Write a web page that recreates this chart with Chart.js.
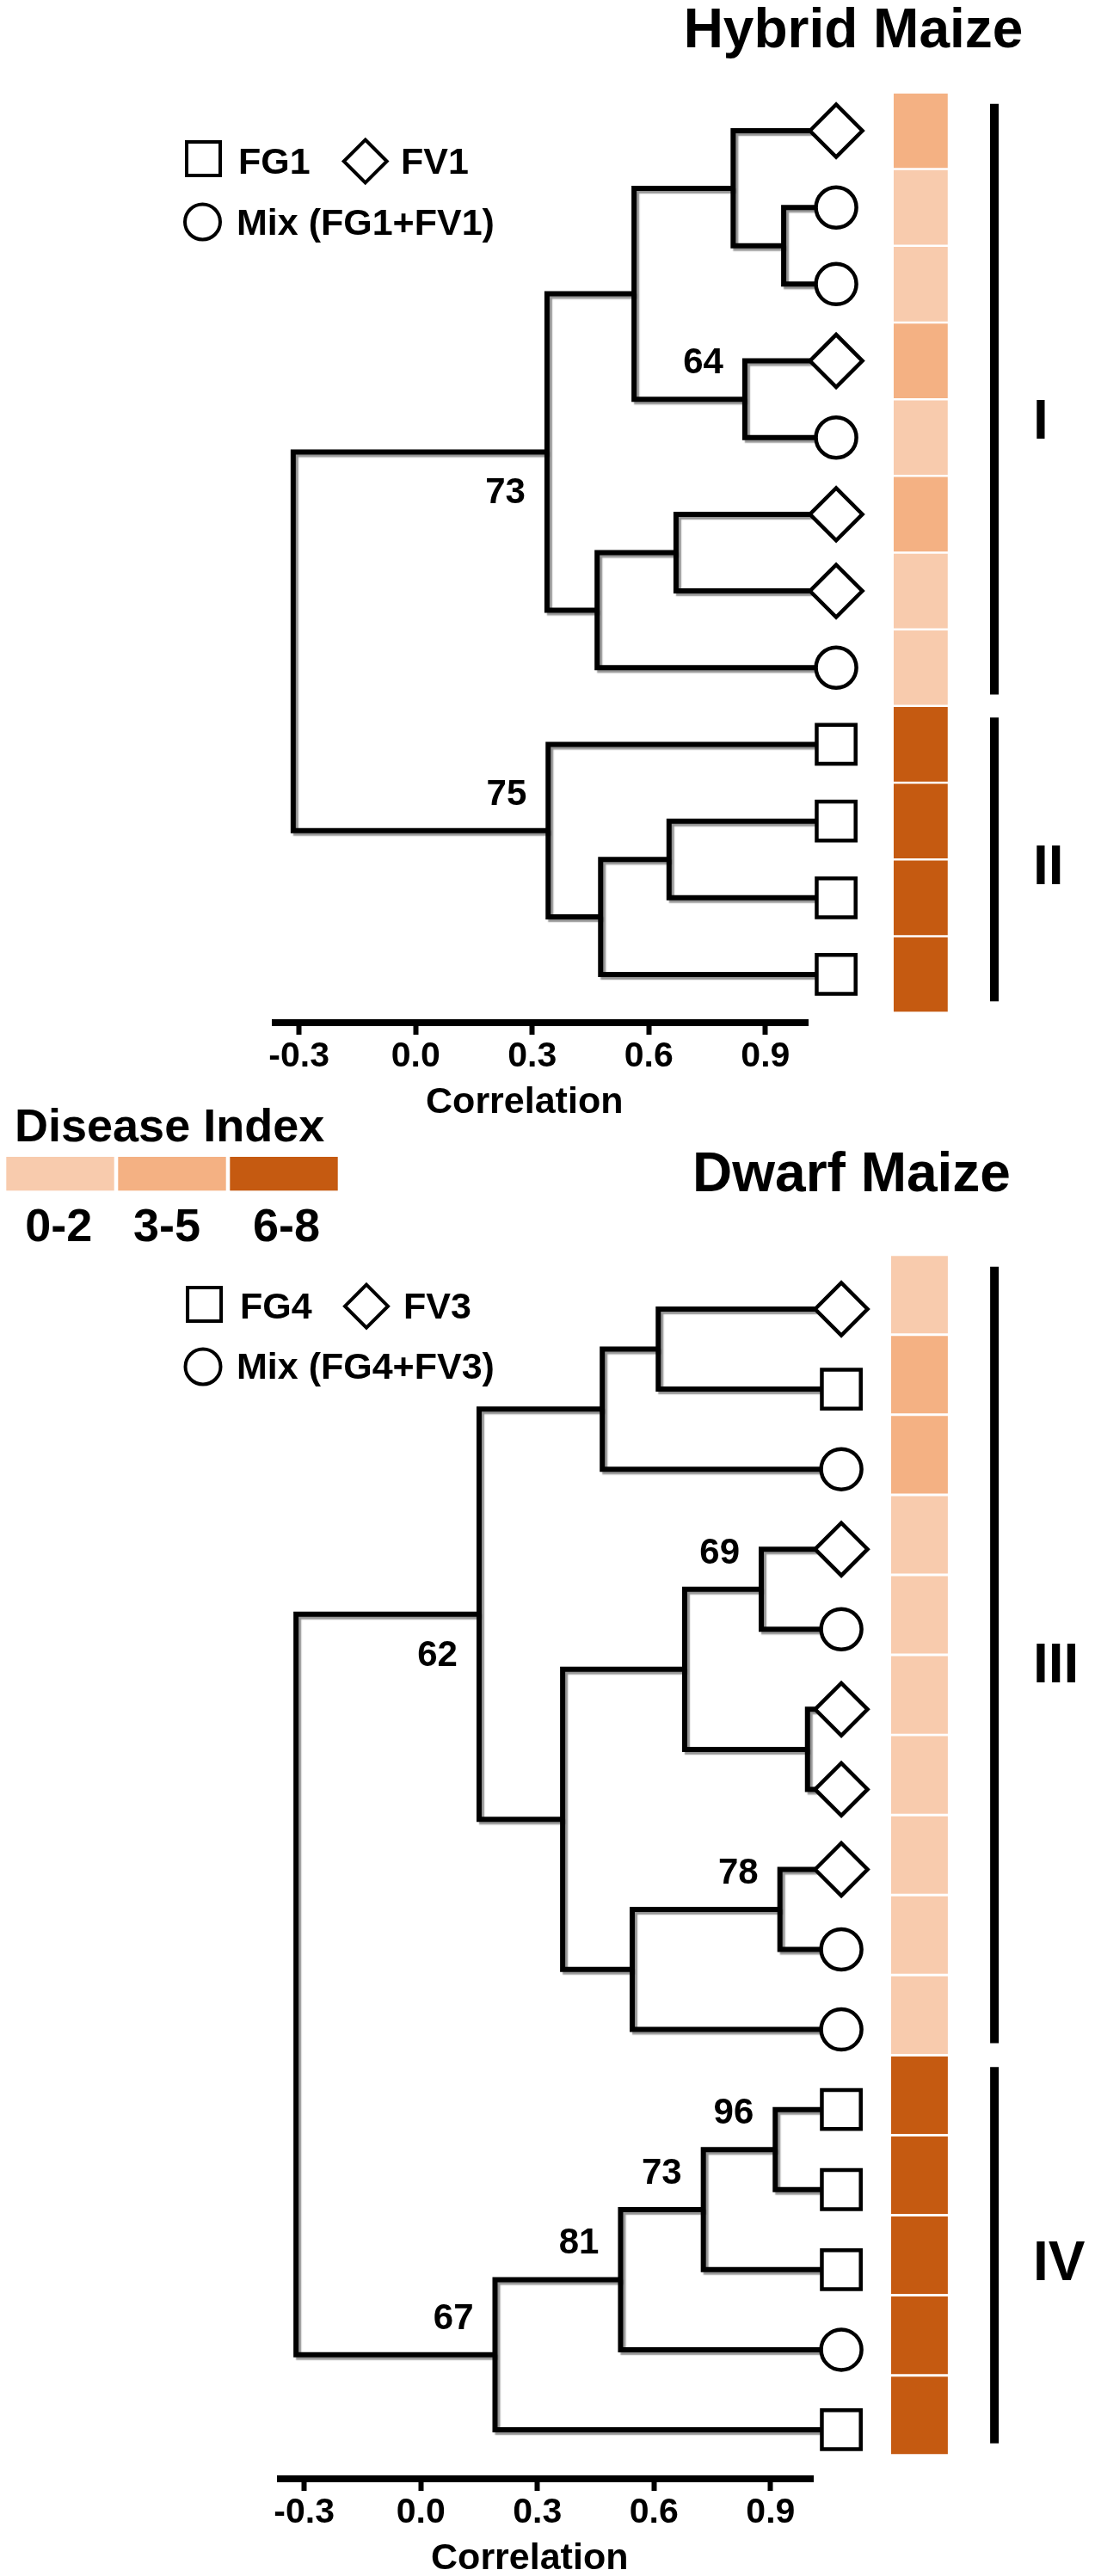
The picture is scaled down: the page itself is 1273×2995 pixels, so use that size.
<!DOCTYPE html>
<html>
<head>
<meta charset="utf-8">
<script src="https://cdn.jsdelivr.net/npm/chart.js@4.4.0/dist/chart.umd.min.js"></script>
<style>
html, body { margin: 0; padding: 0; background: #ffffff; }
body { width: 1273px; height: 2995px; position: relative; overflow: hidden; }
canvas { position: absolute; left: 0; }
#hybrid { top: 0; }
#dwarf { top: 1250px; }
</style>
</head>
<body>
<canvas id="hybrid" width="1273" height="1300"></canvas>
<canvas id="dwarf" width="1273" height="1745"></canvas>
<script>
// ===================== DATA =====================
const tickValues = [-0.3, 0.0, 0.3, 0.6, 0.9];
const tickLabels = ['-0.3', '0.0', '0.3', '0.6', '0.9'];
const axisTitle = 'Correlation';

const diseaseTitle = 'Disease Index';
const diseaseCategories = ['0-2', '3-5', '6-8'];

// ---- Hybrid maize ----
const hybridTitle = 'Hybrid Maize';
const hybridLegendLabels = ['FG1', 'FV1', 'Mix (FG1+FV1)'];
// leaf order top -> bottom
const hybridShapes = ['diamond', 'circle', 'circle', 'diamond', 'circle', 'diamond',
                      'diamond', 'circle', 'square', 'square', 'square', 'square'];
// index into diseaseCategories
const hybridDisease = [1, 0, 0, 1, 0, 1, 0, 0, 2, 2, 2, 2];
// merges: [child A, child B, correlation of the join]; new node ids continue after the leaves
const hybridMerges = [
  [1, 2, 0.947],    // 12
  [0, 12, 0.817],   // 13
  [3, 4, 0.847],    // 14
  [13, 14, 0.562],  // 15
  [5, 6, 0.670],    // 16
  [16, 7, 0.467],   // 17
  [15, 17, 0.338],  // 18
  [9, 10, 0.652],   // 19
  [19, 11, 0.476],  // 20
  [8, 20, 0.341],   // 21
  [18, 21, -0.315]  // 22 root
];
// bootstrap support: [node id, value, side]
const hybridSupport = [[14, 64, 'above'], [18, 73, 'below'], [21, 75, 'above']];
// clusters: [label, first leaf, last leaf]
const hybridGroups = [['I', 0, 7], ['II', 8, 11]];

// ---- Dwarf maize ----
const dwarfTitle = 'Dwarf Maize';
const dwarfLegendLabels = ['FG4', 'FV3', 'Mix (FG4+FV3)'];
const dwarfShapes = ['diamond', 'square', 'circle', 'diamond', 'circle', 'diamond', 'diamond',
                     'diamond', 'circle', 'circle', 'square', 'square', 'square', 'circle', 'square'];
const dwarfDisease = [0, 1, 1, 0, 0, 0, 0, 0, 0, 0, 2, 2, 2, 2, 2];
const dwarfMerges = [
  [0, 1, 0.611],    // 15
  [15, 2, 0.467],   // 16
  [3, 4, 0.876],    // 17
  [5, 6, 0.995],    // 18
  [17, 18, 0.679],  // 19
  [7, 8, 0.924],    // 20
  [20, 9, 0.544],   // 21
  [19, 21, 0.365],  // 22
  [16, 22, 0.150],  // 23
  [10, 11, 0.912],  // 24
  [24, 12, 0.727],  // 25
  [25, 13, 0.514],  // 26
  [26, 14, 0.191],  // 27
  [23, 27, -0.321]  // 28 root
];
const dwarfSupport = [[17, 69, 'above'], [20, 78, 'above'], [23, 62, 'below'], [24, 96, 'above'],
                      [25, 73, 'above'], [26, 81, 'above'], [27, 67, 'above']];
const dwarfGroups = [['III', 0, 9], ['IV', 10, 14]];

// ===================== STYLE =====================
const FONT = "'Liberation Sans', Arial, Helvetica, sans-serif";
const diseaseColors = ['#F8CBAD', '#F4B183', '#C55A11'];
const pointStyleMap = { square: 'rect', diamond: 'rectRot', circle: 'circle' };
const pointRadiusMap = { square: 32, diamond: 30.5, circle: 23.5 };
const X_MIN = -0.37, X_MAX = 1.6528;   // scale range (plot area extends right to hold leaves/strip)
const AXIS_LINE = [-0.37, 1.011];      // visible extent of the correlation axis line

const hybridStyle = {
  padding: { left: 316, right: 43, top: 60, bottom: 0 },
  axisHeight: 111, yMin: -1.0316, yMax: 11.628,
  leafX: 1.082, stripX: [1.230, 1.369], stripOffset: 0, cellFill: 0.972,
  barX: 1.489, barInset: 0.15, groupLabelX: 1201, groupLabelDy: [23, 6],
  title: { x: 992, y: 55 },
  legendMarkers: [['square', 236.5, 184.5], ['diamond', 424.7, 187.5], ['circle', 235.5, 258]],
  legendText: [[277, 201.7], [466, 201.7], [275, 273]],
  disease: null
};
const dwarfStyle = {
  padding: { left: 322, right: 37, top: 150, bottom: 0 },
  axisHeight: 113, yMin: -1.311, yMax: 14.613,
  leafX: 1.082, stripX: [1.210, 1.356], stripOffset: -0.18, cellFill: 0.968,
  barX: 1.476, barInset: 0.15, groupLabelX: 1201, groupLabelDy: [9, 6],
  title: { x: 990, y: 135 },
  legendMarkers: [['square', 237.6, 266.4], ['diamond', 426, 268.7], ['circle', 236, 339]],
  legendText: [[279, 282.7], [469, 283], [275, 353]],
  disease: { titleX: 17, titleY: 77, swatchX: [7.3, 137.3, 267.3], swatchW: 125.4,
             swatchY: 95, swatchH: 39.3, labelX: [68.3, 194, 333], labelY: 193 }
};

// ===================== DRAWING =====================
function drawShape(ctx, shape, x, y, size, lw) {
  ctx.beginPath();
  if (shape === 'square') {
    ctx.rect(x - size, y - size, 2 * size, 2 * size);
  } else if (shape === 'diamond') {
    ctx.moveTo(x, y - size); ctx.lineTo(x + size, y);
    ctx.lineTo(x, y + size); ctx.lineTo(x - size, y); ctx.closePath();
  } else {
    ctx.arc(x, y, size, 0, Math.PI * 2);
  }
  ctx.fillStyle = '#fff'; ctx.fill();
  ctx.lineWidth = lw; ctx.strokeStyle = '#000'; ctx.lineJoin = 'miter'; ctx.stroke();
}

const shadowPlugin = {
  id: 'treeShadow',
  beforeDatasetDraw(chart, args) {
    const ds = chart.data.datasets[args.index];
    if (ds.isTree) {
      const c = chart.ctx;
      c.save();
      c.shadowColor = 'rgba(0,0,0,0.42)';
      c.shadowOffsetX = 3; c.shadowOffsetY = 3; c.shadowBlur = 1.5;
    }
  },
  afterDatasetDraw(chart, args) {
    const ds = chart.data.datasets[args.index];
    if (ds.isTree) chart.ctx.restore();
  }
};

function buildPanel(canvasId, d, st) {
  const n = d.shapes.length;
  const nodeX = [], nodeY = [];
  for (let i = 0; i < n; i++) { nodeX.push(st.leafX); nodeY.push(i); }
  d.merges.forEach(([a, b, h]) => { nodeX.push(h); nodeY.push((nodeY[a] + nodeY[b]) / 2); });

  const datasets = [];
  // correlation axis line
  datasets.push({
    type: 'scatter', showLine: true,
    data: [{ x: AXIS_LINE[0], y: st.yMax }, { x: AXIS_LINE[1], y: st.yMax }],
    borderColor: '#000', borderWidth: 8, pointRadius: 0, order: 4, clip: false,
    borderCapStyle: 'butt'
  });
  // disease-index strip
  datasets.push({
    type: 'bar', indexAxis: 'y',
    data: d.disease.map((c, i) => ({ x: [st.stripX[0], st.stripX[1]], y: i + st.stripOffset })),
    backgroundColor: d.disease.map(c => diseaseColors[c]),
    borderWidth: 0, barPercentage: 1, categoryPercentage: st.cellFill,
    order: 3, clip: false
  });
  // cluster bars
  d.groups.forEach(([lab, f, l]) => datasets.push({
    type: 'scatter', showLine: true, indexAxis: 'y',
    data: [{ x: st.barX, y: f - 0.5 + st.barInset + st.stripOffset },
           { x: st.barX, y: l + 0.5 - st.barInset + st.stripOffset }],
    borderColor: '#000', borderWidth: 10, pointRadius: 0, order: 2, clip: false,
    borderCapStyle: 'butt'
  }));
  // dendrogram links
  d.merges.forEach(([a, b, h]) => datasets.push({
    type: 'scatter', showLine: true, isTree: true,
    data: [{ x: nodeX[a], y: nodeY[a] }, { x: h, y: nodeY[a] },
           { x: h, y: nodeY[b] }, { x: nodeX[b], y: nodeY[b] }],
    borderColor: '#000', borderWidth: 6, pointRadius: 0, order: 1, clip: false,
    borderJoinStyle: 'miter', borderCapStyle: 'butt', tension: 0
  }));
  // leaves
  datasets.push({
    type: 'scatter', indexAxis: 'y',
    data: d.shapes.map((s, i) => ({ x: st.leafX, y: i })),
    pointStyle: d.shapes.map(s => pointStyleMap[s]),
    pointRadius: d.shapes.map(s => pointRadiusMap[s]),
    pointBorderWidth: 4.5, pointBackgroundColor: '#fff', pointBorderColor: '#000',
    order: 0, clip: false
  });

  const textPlugin = {
    id: 'texts',
    afterDraw(chart) {
      const ctx = chart.ctx;
      const xs = chart.scales.x, ys = chart.scales.y;
      ctx.save();
      ctx.fillStyle = '#000';
      ctx.textBaseline = 'alphabetic';
      // support values
      ctx.font = 'bold 42px ' + FONT;
      ctx.textAlign = 'right';
      d.support.forEach(([node, val, side]) => {
        const px = xs.getPixelForValue(nodeX[node]);
        const py = ys.getPixelForValue(nodeY[node]);
        ctx.fillText(String(val), px - 25, py + (side === 'above' ? -45 : 45) + 15);
      });
      // cluster labels
      ctx.font = 'bold 64px ' + FONT;
      ctx.textAlign = 'left';
      d.groups.forEach(([lab, f, l], gi) => {
        const cy = ys.getPixelForValue((f + l) / 2 + st.stripOffset);
        ctx.fillText(lab, st.groupLabelX, cy + 23 + st.groupLabelDy[gi]);
      });
      // axis title
      ctx.font = 'bold 43px ' + FONT;
      ctx.textAlign = 'center';
      ctx.fillText(axisTitle, xs.getPixelForValue(0.3) - 9, chart.chartArea.bottom + 104.5);
      // panel title
      ctx.font = 'bold 64px ' + FONT;
      ctx.fillText(d.title, st.title.x, st.title.y);
      // shape legend
      const legendSizes = { square: 19.5, diamond: 25, circle: 20.5 };
      st.legendMarkers.forEach(([shape, x, y]) => drawShape(ctx, shape, x, y, legendSizes[shape], 4));
      ctx.fillStyle = '#000';
      ctx.font = 'bold 43px ' + FONT;
      ctx.textAlign = 'left';
      d.legendLabels.forEach((t, i) => ctx.fillText(t, st.legendText[i][0], st.legendText[i][1]));
      // disease index legend
      if (st.disease) {
        const g = st.disease;
        ctx.font = 'bold 54px ' + FONT;
        ctx.textAlign = 'left';
        ctx.fillText(diseaseTitle, g.titleX, g.titleY);
        diseaseCategories.forEach((c, i) => {
          ctx.fillStyle = diseaseColors[i];
          ctx.fillRect(g.swatchX[i], g.swatchY, g.swatchW, g.swatchH);
        });
        ctx.fillStyle = '#000';
        ctx.font = 'bold 54px ' + FONT;
        ctx.textAlign = 'center';
        diseaseCategories.forEach((c, i) => ctx.fillText(c, g.labelX[i], g.labelY));
      }
      ctx.restore();
    }
  };

  return new Chart(document.getElementById(canvasId), {
    type: 'scatter',
    data: { datasets },
    options: {
      responsive: false, animation: false, events: [],
      layout: { padding: st.padding },
      plugins: { legend: { display: false }, tooltip: { enabled: false }, title: { display: false } },
      scales: {
        x: {
          type: 'linear', min: X_MIN, max: X_MAX, offset: false,
          afterBuildTicks: s => { s.ticks = tickValues.map(v => ({ value: v })); },
          afterFit: s => { s.height = st.axisHeight; },
          ticks: {
            callback: (v, i) => tickLabels[i],
            font: { family: FONT, size: 41, weight: 'bold' }, color: '#000',
            padding: 1, maxRotation: 0, autoSkip: false
          },
          grid: { drawOnChartArea: false, drawTicks: true, tickLength: 14, tickWidth: 6,
                  tickColor: '#000', offset: false },
          border: { display: false }
        },
        y: {
          type: 'linear', display: false, reverse: true, min: st.yMin, max: st.yMax,
          offset: false, grid: { offset: false },
          afterBuildTicks: s => { s.ticks = d.shapes.map((_, i) => ({ value: i })); }
        }
      }
    },
    plugins: [shadowPlugin, textPlugin]
  });
}

buildPanel('hybrid', {
  title: hybridTitle, legendLabels: hybridLegendLabels, shapes: hybridShapes,
  disease: hybridDisease, merges: hybridMerges, support: hybridSupport, groups: hybridGroups
}, hybridStyle);

buildPanel('dwarf', {
  title: dwarfTitle, legendLabels: dwarfLegendLabels, shapes: dwarfShapes,
  disease: dwarfDisease, merges: dwarfMerges, support: dwarfSupport, groups: dwarfGroups
}, dwarfStyle);
</script>
</body>
</html>
